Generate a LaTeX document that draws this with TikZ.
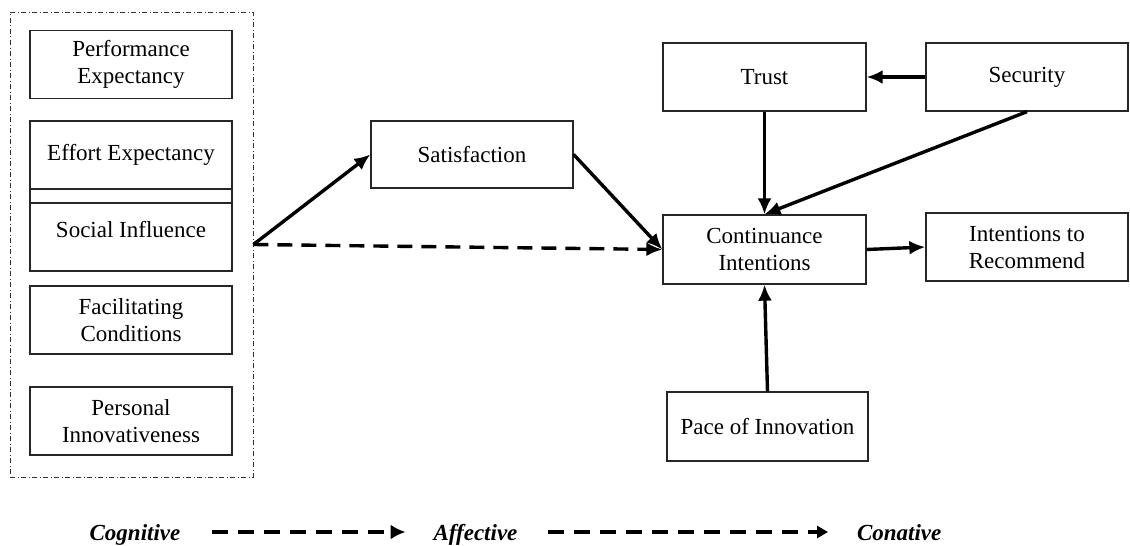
\documentclass[tikz,border=0pt]{standalone}
\usepackage{fontspec}
\setmainfont{Liberation Serif}
\usetikzlibrary{arrows.meta,fit}

\tikzset{
  construct/.style={draw=black!85, line width=1.3pt, minimum width=202pt,
    minimum height=68pt, align=center, inner sep=2pt,
    font=\fontsize{23}{27}\selectfont},
  path arrow/.style={line width=3.4pt, -{Latex[length=16pt,width=14pt]}},
  path dashed/.style={path arrow, dash pattern=on 15pt off 9pt},
  group frame/.style={draw=black!80, line width=0.9pt,
    dash pattern=on 5pt off 2.5pt on 1pt off 2.5pt, inner sep=0pt},
  stage/.style={font=\fontsize{23}{27}\selectfont\bfseries\itshape,
    inner sep=0pt, outer sep=0pt, anchor=base},
  stage arrow/.style={line width=3.8pt, dash pattern=on 16pt off 10pt}
}

\begin{document}
\begin{tikzpicture}[x=1pt,y=-1pt]
  \useasboundingbox (0,0) rectangle (1130,546);

  % antecedent constructs
  \node[construct] (perf) at (131,64.5) {Performance\\Expectancy};
  \node[construct] (effort) at (131,155) {Effort Expectancy};
  \node[construct, minimum height=82pt] (social) at (131,230) {Social Influence};
  \node[construct] (facil) at (131,320) {Facilitating\\Conditions};
  \node[construct] (innov) at (131,421) {Personal\\Innovativeness};
  \draw[black!85, line width=1.3pt] (social.west |- 0,203) -- (social.east |- 0,203);

  % frame around the antecedents
  \coordinate (gtl) at (10,12);
  \coordinate (gbr) at (253,477);
  \node[group frame, fit=(gtl)(gbr)] (group) {};

  % mediating and outcome constructs
  \node[construct, minimum height=67pt] (sat) at (472,154.5) {Satisfaction};
  \node[construct, minimum width=203pt] (trust) at (764.5,77) {Trust};
  \node[construct] (sec) at (1027,77) {Security};
  \node[construct, minimum width=203pt, minimum height=69pt] (ci) at (764.5,249.5) {Continuance\\Intentions};
  \node[construct] (itr) at (1027,247) {Intentions to\\Recommend};
  \node[construct, minimum width=201pt, minimum height=69pt] (pace) at (767.5,426.5) {Pace of Innovation};

  % paths
  \draw[path arrow] (group.east) -- (sat.west);
  \draw[path dashed] (group.east) -- (ci.west);
  \draw[path arrow] (sat.east) -- (ci.west);
  \draw[path arrow] (sec.west) -- (trust.east);
  \draw[path arrow] (trust.south) -- (ci.north);
  \draw[path arrow] (sec.south) -- (ci.north);
  \draw[path arrow] (ci.east) -- (itr.west);
  \draw[path arrow] (pace.north) -- (ci.south);

  % stage legend
  \node[stage] (cog) at (135,540) {Cognitive};
  \node[stage] (aff) at (475.5,540) {Affective};
  \node[stage, anchor=base west] (con) at (857,540) {Conative};
  \draw[stage arrow, -{Latex[length=15pt,width=15pt]}, shorten <=32pt, shorten >=28pt]
    ([yshift=8pt]cog.base east) -- ([yshift=8pt]aff.base west);
  \draw[stage arrow, -{Triangle[length=11pt,width=12pt]}, shorten <=31pt, shorten >=29pt]
    ([yshift=8pt]aff.base east) -- ([yshift=8pt]con.base west);
\end{tikzpicture}
\end{document}
